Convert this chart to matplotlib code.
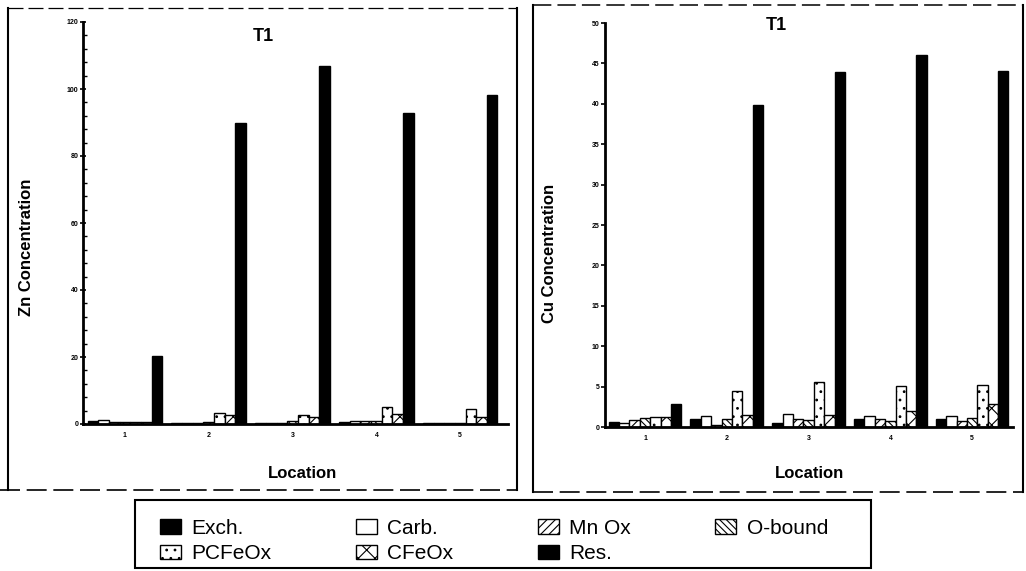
import matplotlib
matplotlib.use('Agg')
import matplotlib.pyplot as plt
import numpy as np
from matplotlib.lines import Line2D
from matplotlib.patches import Rectangle
from matplotlib.ticker import MultipleLocator

plt.rcParams['font.family'] = ['Liberation Sans', 'DejaVu Sans']
plt.rcParams['hatch.linewidth'] = 0.8

locations = [1, 2, 3, 4, 5]
fractions = ['Exch.', 'Carb.', 'Mn Ox', 'O-bound', 'PCFeOx', 'CFeOx', 'Res.']

zn_exch = [0.8, 0.3, 0.3, 0.6, 0.4]
zn_carb = [1.2, 0.3, 0.3, 0.8, 0.4]
zn_mnox = [0.6, 0.3, 0.4, 0.8, 0.4]
zn_obound = [0.6, 0.6, 0.8, 0.8, 0.4]
zn_pcfeox = [0.7, 3.2, 2.8, 5.2, 4.5]
zn_cfeox = [0.7, 2.6, 2.1, 3.0, 2.1]
zn_res = [20.3, 89.8, 106.9, 92.8, 98.1]

cu_exch = [0.6, 1.0, 0.5, 1.0, 1.0]
cu_carb = [0.5, 1.4, 1.6, 1.4, 1.4]
cu_mnox = [0.9, 0.2, 1.0, 1.0, 0.7]
cu_obound = [1.1, 1.0, 0.9, 0.8, 1.1]
cu_pcfeox = [1.2, 4.4, 5.6, 5.1, 5.2]
cu_cfeox = [1.2, 1.5, 1.5, 2.0, 2.8]
cu_res = [2.9, 39.9, 43.9, 46.1, 44.0]

zn_series = [zn_exch, zn_carb, zn_mnox, zn_obound, zn_pcfeox, zn_cfeox, zn_res]
cu_series = [cu_exch, cu_carb, cu_mnox, cu_obound, cu_pcfeox, cu_cfeox, cu_res]

styles = [
    ('black', ''),
    ('white', ''),
    ('white', '////'),
    ('white', '\\\\\\\\\\'),
    ('white', '..'),
    ('white', 'xx'),
    ('black', ''),
]

W, H = 1026, 571
fig = plt.figure(figsize=(W / 100, H / 100), dpi=100)


def fx(px):
    return px / W


def fy(py):
    return 1 - py / H


ax1 = fig.add_axes([fx(83), fy(424), fx(508 - 83), (424 - 22) / H])
ax2 = fig.add_axes([fx(605), fy(427), fx(1013 - 605), (427 - 23) / H])

bw = 0.127
x = np.array(locations, dtype=float)


def draw(ax, series):
    handles = []
    for i, (vals, (fc, hatch)) in enumerate(zip(series, styles)):
        off = (i - 3) * bw
        b = ax.bar(x + off, vals, width=bw, facecolor=fc, edgecolor='black',
                   hatch=hatch, linewidth=1.0, label=fractions[i])
        handles.append(b)
    return handles


handles = draw(ax1, zn_series)
draw(ax2, cu_series)

for ax in (ax1, ax2):
    for s in ('top', 'right'):
        ax.spines[s].set_visible(False)
    for s in ('left', 'bottom'):
        ax.spines[s].set_linewidth(2)
    ax.set_xticks(locations)
    ax.set_xticklabels([str(v) for v in locations], fontsize=5, fontweight='bold')
    ax.tick_params(axis='x', length=0, pad=6)

ax1.set_xlim(0.5, 5.57)
ax1.set_ylim(0, 120)
ax1.set_yticks([0, 20, 40, 60, 80, 100, 120])
ax1.yaxis.set_minor_locator(MultipleLocator(4))
ax1.tick_params(axis='y', which='major', direction='inout', length=5, width=1.2,
                labelsize=5, pad=1)
ax1.tick_params(axis='y', which='minor', direction='in', length=3, width=1.0)
ax1.set_yticklabels([str(v) for v in [0, 20, 40, 60, 80, 100, 120]],
                    fontsize=5, fontweight='bold')

ax2.set_xlim(0.51, 5.5)
ax2.set_ylim(0, 50)
ax2.set_yticks(list(range(0, 51, 5)))
ax2.set_yticklabels([str(v) for v in range(0, 51, 5)], fontsize=5, fontweight='bold')
ax2.tick_params(axis='y', which='major', direction='out', length=3, width=1.2,
                labelsize=5, pad=1)

ax1.set_ylabel('Zn Concentration', fontsize=12, fontweight='bold')
ax1.yaxis.set_label_coords(-0.115, 0.44)
ax1.set_xlabel('Location', fontsize=12, fontweight='bold')
ax1.xaxis.set_label_coords(0.517, -0.104)

ax2.set_ylabel('Cu Concentration', fontsize=12, fontweight='bold')
ax2.yaxis.set_label_coords(-0.118, 0.43)
ax2.set_xlabel('Location', fontsize=12, fontweight='bold')
ax2.xaxis.set_label_coords(0.5, -0.097)

ax1.text(0.424, 0.965, 'T1', transform=ax1.transAxes, ha='center', va='center',
         fontsize=13, fontweight='bold')
ax2.text(0.419, 0.995, 'T1', transform=ax2.transAxes, ha='center', va='center',
         fontsize=13, fontweight='bold')


# panel frames (scanned page look)
def hline(x0, x1, y, ls='-', lw=1.2):
    fig.add_artist(Line2D([fx(x0), fx(x1)], [fy(y), fy(y)], color='black',
                          lw=lw, ls=ls, transform=fig.transFigure))


def vline(x, y0, y1, ls='-', lw=1.5):
    fig.add_artist(Line2D([fx(x), fx(x)], [fy(y0), fy(y1)], color='black',
                          lw=lw, ls=ls, transform=fig.transFigure))


dash = (0, (12, 4))
hline(8, 517, 8, ls=dash, lw=0.9)
hline(0, 517, 490, ls=dash, lw=1.2)
vline(8, 8, 490)
vline(517, 8, 490)
hline(533, 1023, 5, ls=dash, lw=1.1)
hline(533, 1023, 492, ls=dash, lw=1.2)
vline(533, 5, 492)
vline(1023, 5, 492)

# legend box
fig.add_artist(Rectangle((fx(135), fy(568)), fx(871 - 135), (568 - 500) / H,
                         facecolor='none', edgecolor='black', lw=1.5,
                         transform=fig.transFigure))
# order so that the legend reads row by row (matplotlib fills columns first)
order = [0, 4, 1, 5, 2, 6, 3]
fig.legend(handles=[handles[i] for i in order],
           labels=[fractions[i] for i in order], ncol=4, mode='expand',
           loc='center', bbox_to_anchor=(fx(160), fy(541), fx(668), 0),
           bbox_transform=fig.transFigure, frameon=False, fontsize=15,
           handlelength=1.0, handleheight=0.7, handletextpad=0.5,
           labelspacing=0.3, borderpad=0, borderaxespad=0)

fig.savefig('out.png', dpi=100)
